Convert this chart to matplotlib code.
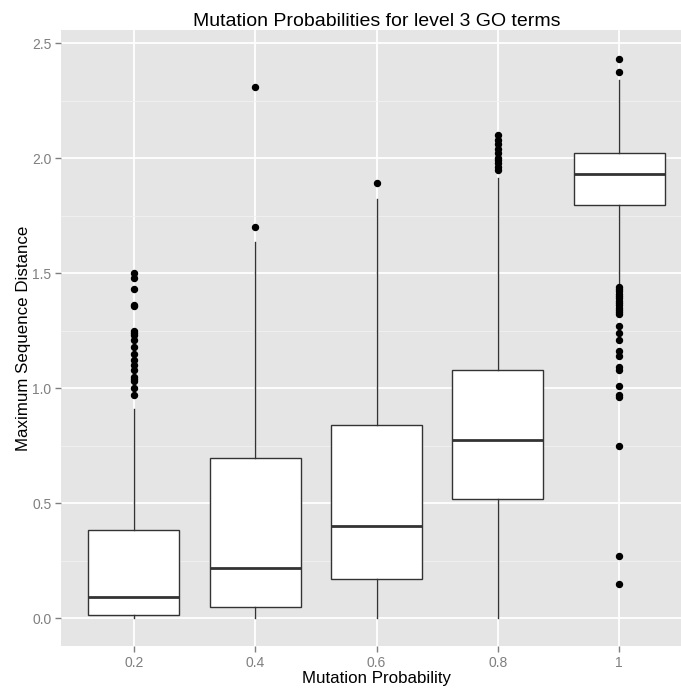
import matplotlib
matplotlib.use("Agg")
import matplotlib.pyplot as plt
from matplotlib.ticker import MultipleLocator, FormatStrFormatter

# box statistics (one entry per mutation probability)
labels = ["0.2", "0.4", "0.6", "0.8", "1"]
q1 = [0.013, 0.048, 0.17, 0.518, 1.794]
med = [0.091, 0.218, 0.40, 0.775, 1.932]
q3 = [0.383, 0.697, 0.84, 1.08, 2.024]
whislo = [0.0, 0.0, 0.0, 0.0, 1.446]
whishi = [0.91, 1.635, 1.823, 1.913, 2.34]

fliers_02 = [1.50, 1.48, 1.43, 1.36, 1.355, 1.25, 1.24, 1.23, 1.21, 1.18,
             1.15, 1.12, 1.10, 1.08, 1.05, 1.04, 1.03, 1.00, 0.97]
fliers_04 = [1.70, 2.31]
fliers_06 = [1.89]
fliers_08 = [1.95, 1.96, 1.98, 1.99, 2.00, 2.02, 2.04, 2.06, 2.08, 2.10]
fliers_1 = [2.43, 2.375, 1.44, 1.43, 1.42, 1.41, 1.40, 1.39, 1.38, 1.37,
            1.36, 1.35, 1.34, 1.33, 1.32, 1.27, 1.24, 1.21, 1.16, 1.14,
            1.09, 1.08, 1.01, 0.97, 0.96, 0.75, 0.27, 0.15]
fliers = [fliers_02, fliers_04, fliers_06, fliers_08, fliers_1]

plt.rcParams['font.family'] = ['Liberation Sans', 'DejaVu Sans']

fig = plt.figure(figsize=(6.81, 6.90), dpi=100)
# panel runs off the right edge like in the reference
ax = fig.add_axes([61 / 681, 44 / 690, 631 / 681, 616 / 690])

stats = []
for i in range(len(labels)):
    stats.append(dict(med=med[i], q1=q1[i], q3=q3[i], whislo=whislo[i],
                      whishi=whishi[i], fliers=fliers[i], label=labels[i]))

ax.set_facecolor("#E5E5E5")
ax.grid(True, which="major", color="white", linewidth=1.3)
ax.grid(True, which="minor", axis="y", color="#F2F2F2", linewidth=0.6)
ax.set_axisbelow(True)

ax.bxp(stats, positions=range(1, 6), widths=0.75, patch_artist=True,
       showcaps=False,
       boxprops=dict(facecolor="white", edgecolor="#333333", linewidth=1.0),
       medianprops=dict(color="#333333", linewidth=2.0),
       whiskerprops=dict(color="#333333", linewidth=1.0),
       flierprops=dict(marker="o", markerfacecolor="black",
                       markeredgecolor="black", markersize=4.3))

ax.set_xlim(0.4, 5.6)
ax.set_ylim(-0.1215, 2.557)
ax.yaxis.set_major_locator(MultipleLocator(0.5))
ax.yaxis.set_minor_locator(MultipleLocator(0.25))
ax.yaxis.set_major_formatter(FormatStrFormatter("%.1f"))

for s in ax.spines.values():
    s.set_visible(False)
ax.tick_params(which="major", length=4, width=1, color="#7F7F7F",
               labelcolor="#7F7F7F", labelsize=10, pad=3)
ax.tick_params(which="minor", length=0)

ax.set_title("Mutation Probabilities for level 3 GO terms", fontsize=14, pad=3)
ax.set_xlabel("Mutation Probability", fontsize=12.2)
ax.set_ylabel("Maximum Sequence Distance", fontsize=12.2, labelpad=1)
ax.xaxis.set_label_coords(0.5, -0.040)

fig.savefig("out.png", dpi=100)
